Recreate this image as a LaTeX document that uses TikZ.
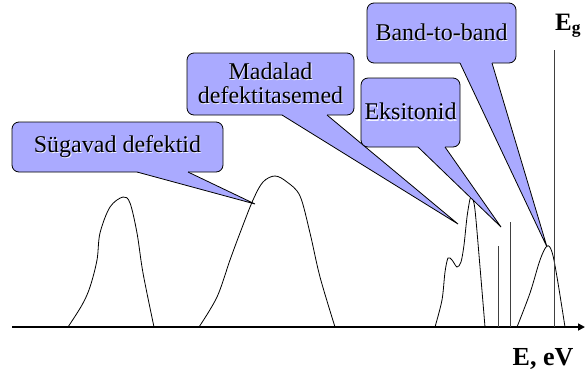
\documentclass[tikz,border=0pt]{standalone}
\usepackage{fontspec}
\setmainfont{Liberation Serif}
\usetikzlibrary{calc,arrows.meta}
\definecolor{callfill}{RGB}{170,170,255}
\newcommand\shtxt[1]{\makebox[0pt][l]{\hspace{0.8pt}\raisebox{-1.5pt}{\textcolor{white!85!callfill}{#1}}}#1}
\newcommand\calloutptr[3]{%
  \fill[callfill] ($(#1)+(0,-3)$) -- (#1) -- (#3) -- (#2) -- ($(#2)+(0,-3)$) -- cycle;
  \draw[thinline, line join=miter] (#1) -- (#3) -- (#2);}
\begin{document}
\begin{tikzpicture}[x=1pt,y=-1pt,
  thinline/.style={line width=0.8pt, draw=black},
  callbox/.style={draw=black, line width=0.8pt, fill=callfill, rounded corners=7pt,
    inner sep=0pt, font=\fontsize{24}{24}\selectfont, align=center},
  curve/.style={line width=0.8pt, draw=black},
  vline/.style={line width=0.9pt, draw=black!75},
  lbl/.style={font=\bfseries\fontsize{26}{26}\selectfont, inner sep=0pt}]
\useasboundingbox (0,0) rectangle (585,373);

% axis
\coordinate (axL) at (12,327);
\coordinate (axR) at (585,327);
\draw[line width=1.6pt, -{Triangle[length=7pt,width=7pt]}] (axL) -- (axR);

% peaks
\draw[curve] plot[smooth, tension=0.55] coordinates {(68,327) (82,305) (90,287) (97,260) (100,233) (110,207) (123,197) (130,203) (137,233) (143,273) (154,327)};
\draw[curve] plot[smooth, tension=0.55] coordinates {(199,327) (217,297) (230,260) (240,233) (253,200) (263,182) (275,176) (287,182) (300,196) (310,233) (320,277) (335,327)};
\draw[curve] plot[smooth, tension=0.5] coordinates {(435,327) (442,300) (445,272) (448,258) (452,260) (457,267) (461,262) (464,245) (467,217) (470,199) (472,197) (475,210) (480,267) (485,327)};
\draw[curve] plot[smooth, tension=0.55] coordinates {(517,327) (530,293) (540,260) (547,246) (552,252) (557,277) (565,327)};

% vertical lines
\coordinate (v1T) at (498,246); \coordinate (v1B) at (498,327);
\coordinate (v2T) at (510,222); \coordinate (v2B) at (510,327);
\coordinate (egT) at (554,50);  \coordinate (egB) at (554,327);
\draw[vline] (v1T) -- (v1B);
\draw[vline] (v2T) -- (v2B);
\draw[vline] (egT) -- (egB);

% labels
\node[lbl] (eev) at (543,359) {E, eV};
\node[lbl, font=\bfseries\fontsize{25}{25}\selectfont, anchor=base west] (eg) at (555,30) {E\textsubscript{g}};

% callout tips
\coordinate (tipA) at (255,204);
\coordinate (tipB) at (458,224);
\coordinate (tipC) at (501,227);
\coordinate (tipD) at (547,247);

% Sugavad defektid
\node[callbox, minimum width=211pt, minimum height=50pt] (sug) at (117.5,147) {\shtxt{Sügavad defektid}};
\coordinate (sugL) at (137,172); \coordinate (sugR) at (188,172);
\calloutptr{sugL}{sugR}{tipA}

% Madalad defektitasemed
\node[callbox, minimum width=167pt, minimum height=62pt] (mad) at (270.5,84) {\shtxt{Madalad}\\\shtxt{defektitasemed}};
\coordinate (madL) at (282,115); \coordinate (madR) at (327,115);
\calloutptr{madL}{madR}{tipB}

% Eksitonid
\node[callbox, minimum width=99pt, minimum height=69pt] (eks) at (410.5,112.5) {\shtxt{Eksitonid}};
\coordinate (eksL) at (418,147); \coordinate (eksR) at (445,147);
\calloutptr{eksL}{eksR}{tipC}

% Band-to-band
\node[callbox, minimum width=149pt, minimum height=60pt] (btb) at (441.5,33) {\shtxt{Band-to-band}};
\coordinate (btbL) at (460,63); \coordinate (btbR) at (492,63);
\calloutptr{btbL}{btbR}{tipD}
\end{tikzpicture}
\end{document}
